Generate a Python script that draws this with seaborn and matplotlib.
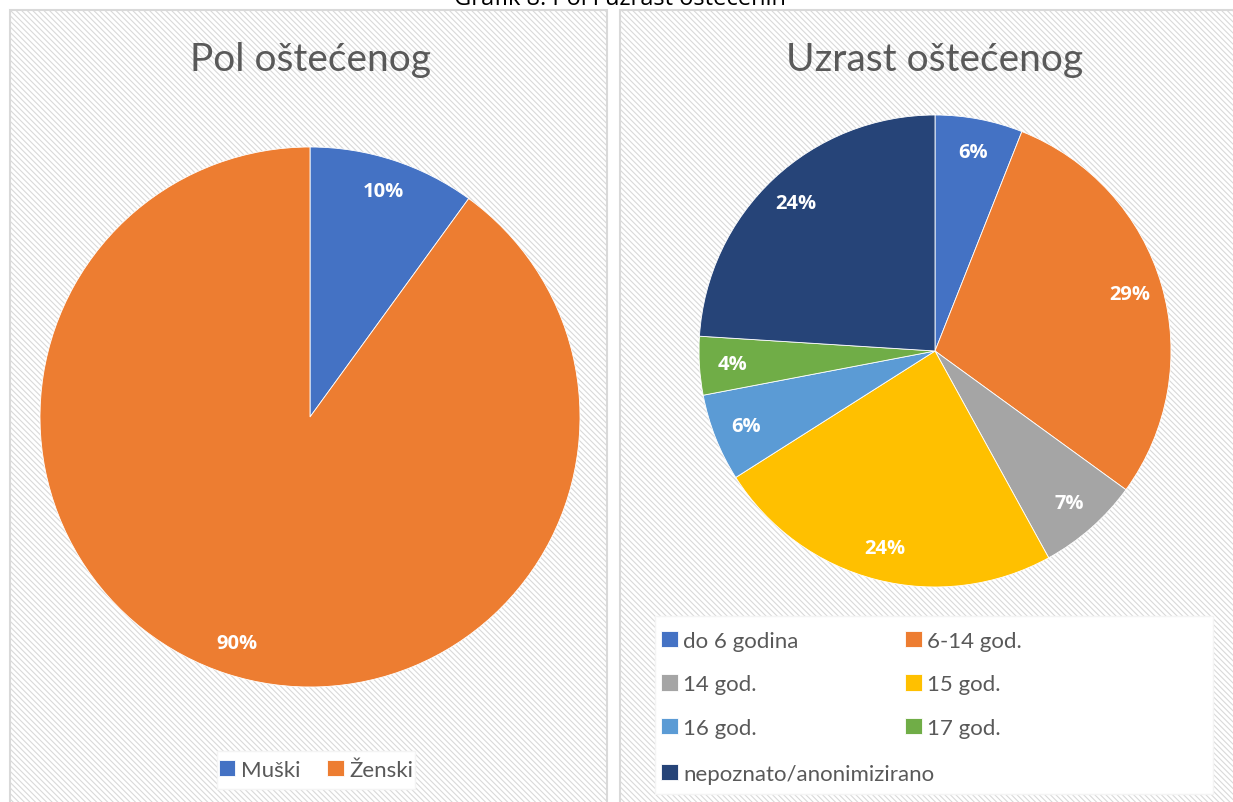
import matplotlib.pyplot as plt
import seaborn as sns
from matplotlib.patches import Rectangle

sns.set_theme(style="white")
plt.rcParams['font.family'] = ['Lato', 'DejaVu Sans']
plt.rcParams['hatch.linewidth'] = 0.8
plt.rcParams['hatch.color'] = '#F3F3F3'

# data
sex_labels = ["Muški", "Ženski"]
sex_values = [10, 90]
age_labels = ["do 6 godina", "6-14 god.", "14 god.", "15 god.", "16 god.", "17 god.",
              "nepoznato/anonimizirano"]
age_values = [6, 29, 7, 24, 6, 4, 24]

office = ["#4472C4", "#ED7D31", "#A5A5A5", "#FFC000", "#5B9BD5", "#70AD47", "#264478"]
text_gray = "#595959"

W, H = 1233, 803
fig = plt.figure(figsize=(W / 100, H / 100), dpi=100)
fig.patch.set_facecolor("white")


def px_rect(x0, y0, x1, y1):
    return (x0 / W, 1 - y1 / H, (x1 - x0) / W, (y1 - y0) / H)


def box(x0, y0, x1, y1, **kw):
    l, b, w, h = px_rect(x0, y0, x1, y1)
    fig.patches.append(Rectangle((l, b), w, h, transform=fig.transFigure, **kw))


# hatched panel backgrounds
for (x0, y0, x1, y1) in [(10, 11, 607, 806), (620, 11, 1236, 806)]:
    box(x0, y0, x1, y1, facecolor="white", edgecolor="#D9D9D9", lw=1.5,
        hatch="\\\\\\\\\\\\", zorder=-10)
# legend boxes
box(217, 752, 415, 790, facecolor="white", edgecolor="#F4F4F4", lw=1, zorder=-5)
box(655, 617, 1213, 795, facecolor="white", edgecolor="#F4F4F4", lw=1, zorder=-5)

# overall caption, partly cut off at the top like in the source
fig.text(620 / W, 1 - 5 / H, "Grafik 8. Pol i uzrast oštećenih", ha="center",
         va="baseline", fontsize=17, color="black", family=["Open Sans", "DejaVu Sans"])


def pie_axes(cx, cy, r):
    return fig.add_axes(px_rect(cx - r, cy - r, cx + r, cy + r))


def fix_limits(ax):
    ax.set_xlim(-1, 1)
    ax.set_ylim(-1, 1)
    ax.set_aspect("equal")
    ax.axis("off")


label_style = dict(color="white", fontsize=14.5, fontweight="bold",
                   family=["Open Sans", "DejaVu Sans"])
wedge_style = dict(edgecolor="white", linewidth=0.6)
leg_kw = dict(frameon=False, fontsize=16, handlelength=0.75, handleheight=0.75,
              handletextpad=0.25, borderpad=0, borderaxespad=0)

# left pie: sex
ax1 = pie_axes(310, 418, 270)
w1, _, _ = ax1.pie(sex_values, colors=office[:2], startangle=90, counterclock=False,
                   radius=1, autopct="%1.0f%%", pctdistance=0.88,
                   wedgeprops=wedge_style, textprops=label_style)
fix_limits(ax1)
fig.text(310 / W, 1 - 60 / H, "Pol oštećenog", ha="center", va="center",
         fontsize=28, color=text_gray)

leg1 = fig.legend(w1, sex_labels, loc="center", bbox_to_anchor=(316 / W, 1 - 771 / H),
                  ncol=2, columnspacing=1.2, **leg_kw)

# right pie: age
ax2 = pie_axes(935, 352, 236)
w2, _, _ = ax2.pie(age_values, colors=office, startangle=90, counterclock=False,
                   radius=1, autopct="%1.0f%%", pctdistance=0.86,
                   wedgeprops=wedge_style, textprops=label_style)
fix_limits(ax2)
fig.text(935 / W, 1 - 60 / H, "Uzrast oštećenog", ha="center", va="center",
         fontsize=28, color=text_gray)

order = [0, 2, 4, 1, 3, 5]
leg2 = fig.legend([w2[i] for i in order], [age_labels[i] for i in order],
                  loc="upper left", bbox_to_anchor=(661 / W, 1 - 632 / H),
                  ncol=2, columnspacing=4.8, labelspacing=1.05, **leg_kw)
leg3 = fig.legend([w2[6]], [age_labels[6]],
                  loc="upper left", bbox_to_anchor=(661 / W, 1 - 765 / H), **leg_kw)
for lg in (leg1, leg2, leg3):
    for t in lg.get_texts():
        t.set_color(text_gray)

fig.savefig("out.png", dpi=100)
